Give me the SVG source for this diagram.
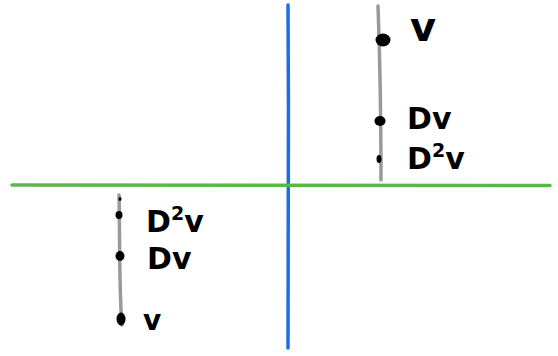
<svg xmlns="http://www.w3.org/2000/svg" width="558" height="356" viewBox="0 0 558 356">
<style>
.lbl{font-family:"DejaVu Sans","Liberation Sans",sans-serif;font-weight:bold;fill:#000;font-size:30px}
.sup{font-size:19px}
.gray{stroke:#999;stroke-width:3.5;fill:none;stroke-linecap:round}
.dot{fill:#000}
</style>
<rect width="558" height="356" fill="#fff"/>
<g id="axes">
<path d="M288,5 C289,120 288,240 288,348" stroke="#1a6eea" stroke-width="3.5" fill="none" stroke-linecap="round"/>
<path d="M12,185 L550,185.5" stroke="#5ab84a" stroke-width="3.5" fill="none" stroke-linecap="round"/>
</g>
<g id="upper-line">
<path class="gray" d="M378,6 C380,60 381,120 381,180"/>
<ellipse class="dot" cx="383" cy="40" rx="7.5" ry="6.5"/>
<ellipse class="dot" cx="380" cy="121" rx="5.5" ry="5"/>
<ellipse class="dot" cx="379" cy="159" rx="2.5" ry="4"/>
<text class="lbl" x="410" y="41" style="font-size:40px">v</text>
<text class="lbl" x="407" y="129">Dv</text>
<text class="lbl" x="407" y="169">D<tspan class="sup" dy="-12">2</tspan><tspan dy="12">v</tspan></text>
</g>
<g id="lower-line">
<path class="gray" d="M119,195 C120,240 119,290 122,325"/>
<ellipse class="dot" cx="120" cy="199" rx="1.5" ry="2"/>
<ellipse class="dot" cx="119" cy="215" rx="3.5" ry="4"/>
<ellipse class="dot" cx="120" cy="256" rx="4.5" ry="5"/>
<ellipse class="dot" cx="121" cy="319" rx="4.5" ry="6.5"/>
<text class="lbl" x="146" y="232">D<tspan class="sup" dy="-12">2</tspan><tspan dy="12">v</tspan></text>
<text class="lbl" x="147" y="269">Dv</text>
<text class="lbl" x="143" y="330" style="font-size:28px">v</text>
</g>
</svg>
